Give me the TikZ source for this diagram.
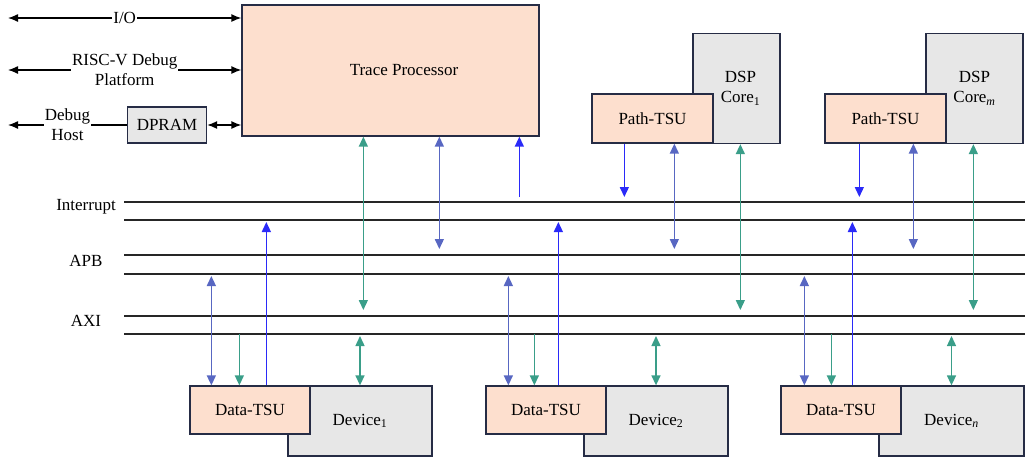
\documentclass[tikz,border=0pt]{standalone}
\usepackage{fontspec}
\setmainfont{Liberation Serif}
\usetikzlibrary{arrows.meta, positioning}

\definecolor{tsufill}{HTML}{FDDFCE}
\definecolor{corefill}{HTML}{E7E7E7}
\definecolor{edgeblue}{HTML}{262C45}
\definecolor{irqblue}{HTML}{2A2AF8}
\definecolor{apbblue}{HTML}{5867C2}
\definecolor{axiteal}{HTML}{3A9E89}

\begin{document}
\begin{tikzpicture}[
	x=1pt, y=-1pt,
	font=\fontsize{17}{20}\selectfont,
	% Gaya untuk kotak (Node Styles)
	tsubox/.style={
		rectangle,
		draw=edgeblue,
		fill=tsufill,
		line width=1.3pt,
		align=center,
		inner sep=0pt
	},
	corebox/.style={
		rectangle,
		draw=edgeblue,
		fill=corefill,
		line width=1.3pt,
		align=center,
		inner sep=0pt
	},
	lbl/.style={fill=white, inner xsep=1pt, inner ysep=0pt, align=center},
	% Gaya untuk garis bus
	bus/.style={line width=1.6pt, draw=black!85},
	% Gaya untuk garis panah
	hostarrow/.style={
		{Latex[length=10pt,width=8pt]}-{Latex[length=10pt,width=8pt]},
		line width=1.3pt
	},
	irqarrow/.style={
		-{Triangle[length=10pt,width=9pt]},
		color=irqblue,
		line width=1.4pt
	},
	apbarrow/.style={
		{Triangle[length=10pt,width=9pt]}-{Triangle[length=10pt,width=9pt]},
		color=apbblue,
		line width=1.4pt
	},
	axiarrow/.style={
		{Triangle[length=10pt,width=9pt]}-{Triangle[length=10pt,width=9pt]},
		color=axiteal,
		line width=1.4pt
	},
	axidown/.style={
		-{Triangle[length=10pt,width=9pt]},
		color=axiteal,
		line width=1.4pt
	}
	]
	
	\useasboundingbox (0,0) rectangle (1025,459);
	
	% Trace Processor dan debug host
	\node[tsubox, minimum width=297pt, minimum height=131pt] (tp) at (390.5,70.5) {\hspace*{27pt}Trace Processor};
	\node[corebox, minimum width=79pt, minimum height=36pt] (dpram) at (167,125) {DPRAM};
	
	\coordinate (ioL) at (8,18);
	\coordinate (rvL) at (8,70);
	\coordinate (dhL) at (8,125);
	
	\draw[hostarrow] (ioL) -- node[lbl] (io) {I/O} (ioL -| tp.west);
	\draw[hostarrow] (rvL) -- node[lbl] (rv) {RISC-V Debug\\Platform} (rvL -| tp.west);
	\draw[hostarrow, {Latex[length=10pt,width=8pt]}-] (dhL) -- node[lbl] (dh) {Debug\\Host} (dpram.west);
	\draw[hostarrow] (dpram.east) -- (dpram -| tp.west);
	
	% DSP core dengan Path-TSU
	\node[corebox, minimum width=87pt, minimum height=110pt] (dsp1) at (736.5,88.5) {\hspace*{8pt}DSP\\\hspace*{8pt}Core\textsubscript{1}};
	\node[tsubox, minimum width=121pt, minimum height=49pt] (ptsu1) at (652.5,118.5) {Path-TSU};
	\node[corebox, minimum width=97pt, minimum height=110pt] (dspm) at (974.5,88.5) {DSP\\Core\textsubscript{\textit{m}}};
	\node[tsubox, minimum width=121pt, minimum height=49pt] (ptsum) at (885.5,118.5) {Path-TSU};
	
	% Bus sistem
	\coordinate (irqT) at (124,202);
	\coordinate (irqB) at (124,220);
	\coordinate (apbT) at (124,255);
	\coordinate (apbB) at (124,274);
	\coordinate (axiT) at (124,316);
	\coordinate (axiB) at (124,334);
	\coordinate (busR) at (1025,0);
	
	\draw[bus] (irqT) -- (irqT -| busR);
	\draw[bus] (irqB) -- (irqB -| busR);
	\draw[bus] (apbT) -- (apbT -| busR);
	\draw[bus] (apbB) -- (apbB -| busR);
	\draw[bus] (axiT) -- (axiT -| busR);
	\draw[bus] (axiB) -- (axiB -| busR);
	
	\node (irqlbl) at (86,207) {Interrupt};
	\node (apblbl) at (86,261) {APB};
	\node (axilbl) at (86,321) {AXI};
	
	% Perangkat dengan Data-TSU
	\node[corebox, minimum width=144pt, minimum height=70pt] (dev1) at (360,421) {Device\textsubscript{1}};
	\node[tsubox, minimum width=120pt, minimum height=48pt] (dtsu1) at (250,410) {Data-TSU};
	\node[corebox, minimum width=144pt, minimum height=70pt] (dev2) at (656,421) {Device\textsubscript{2}};
	\node[tsubox, minimum width=120pt, minimum height=48pt] (dtsu2) at (546,410) {Data-TSU};
	\node[corebox, minimum width=145pt, minimum height=70pt] (devn) at (951.5,421) {Device\textsubscript{\textit{n}}};
	\node[tsubox, minimum width=120pt, minimum height=48pt] (dtsun) at (841,410) {Data-TSU};
	
	% Panah Trace Processor ke bus
	\draw[axiarrow, shorten >=6pt] ([xshift=122pt]tp.south west) -- ([xshift=122pt]tp.south west |- axiT);
	\draw[apbarrow, shorten >=6pt] ([xshift=198pt]tp.south west) -- ([xshift=198pt]tp.south west |- apbT);
	\draw[irqarrow, shorten <=5pt] ([xshift=278pt]tp.south west |- irqT) -- ([xshift=278pt]tp.south west);
	
	% Panah Path-TSU dan DSP core ke bus
	\draw[irqarrow, shorten >=5pt] ([xshift=33pt]ptsu1.south west) -- ([xshift=33pt]ptsu1.south west |- irqT);
	\draw[apbarrow, shorten >=6pt] ([xshift=83pt]ptsu1.south west) -- ([xshift=83pt]ptsu1.south west |- apbT);
	\draw[axiarrow, shorten >=6pt] ([xshift=48pt]dsp1.south west) -- ([xshift=48pt]dsp1.south west |- axiT);
	\draw[irqarrow, shorten >=5pt] ([xshift=35pt]ptsum.south west) -- ([xshift=35pt]ptsum.south west |- irqT);
	\draw[apbarrow, shorten >=6pt] ([xshift=89pt]ptsum.south west) -- ([xshift=89pt]ptsum.south west |- apbT);
	\draw[axiarrow, shorten >=6pt] ([xshift=48pt]dspm.south west) -- ([xshift=48pt]dspm.south west |- axiT);
	
	% Panah Data-TSU dan perangkat ke bus
	\draw[apbarrow, shorten >=2pt] ([xshift=22pt]dtsu1.north west) -- ([xshift=22pt]dtsu1.north west |- apbB);
	\draw[axidown] ([xshift=50pt]dtsu1.north west |- axiB) -- ([xshift=50pt]dtsu1.north west);
	\draw[irqarrow, shorten >=2pt] ([xshift=77pt]dtsu1.north west) -- ([xshift=77pt]dtsu1.north west |- irqB);
	\draw[axiarrow, shorten >=2pt] (dev1.north) -- (dev1.north |- axiB);
	
	\draw[apbarrow, shorten >=2pt] ([xshift=23pt]dtsu2.north west) -- ([xshift=23pt]dtsu2.north west |- apbB);
	\draw[axidown] ([xshift=49pt]dtsu2.north west |- axiB) -- ([xshift=49pt]dtsu2.north west);
	\draw[irqarrow, shorten >=2pt] ([xshift=73pt]dtsu2.north west) -- ([xshift=73pt]dtsu2.north west |- irqB);
	\draw[axiarrow, shorten >=2pt] (dev2.north) -- (dev2.north |- axiB);
	
	\draw[apbarrow, shorten >=2pt] ([xshift=24pt]dtsun.north west) -- ([xshift=24pt]dtsun.north west |- apbB);
	\draw[axidown] ([xshift=51pt]dtsun.north west |- axiB) -- ([xshift=51pt]dtsun.north west);
	\draw[irqarrow, shorten >=2pt] ([xshift=72pt]dtsun.north west) -- ([xshift=72pt]dtsun.north west |- irqB);
	\draw[axiarrow, shorten >=2pt] (devn.north) -- (devn.north |- axiB);
	
\end{tikzpicture}
\end{document}
